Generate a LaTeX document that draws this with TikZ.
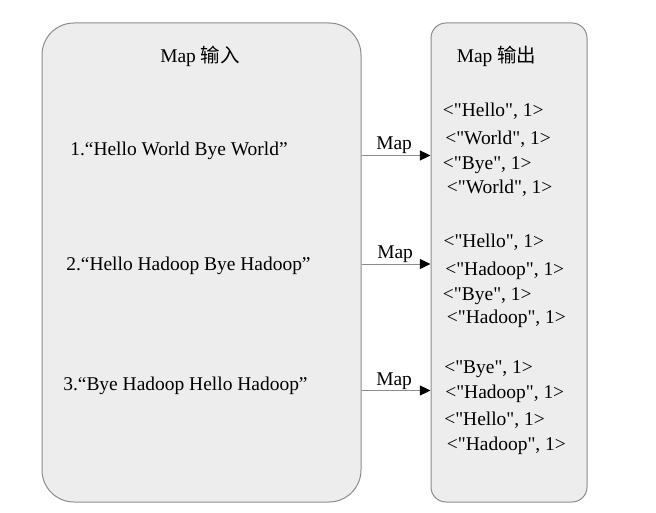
\documentclass[tikz,border=0pt]{standalone}
\usepackage{fontspec}
\setmainfont{Liberation Serif}
\newfontfamily\pairfont{Liberation Serif}
\newfontfamily\cjkfont{Noto Sans CJK SC}
\usepackage{tikz}
\usetikzlibrary{positioning, calc, arrows.meta}
\definecolor{PanelFill}{HTML}{EDEDED}
\definecolor{PanelLine}{HTML}{8C8C8C}
\tikzset{
    panel/.style={
        shape=rectangle,
        draw=PanelLine,
        fill=PanelFill,
        line width=0.75pt,
        rounded corners=#1
    },
    txt/.style={anchor=base west, inner sep=0pt, font=\fontsize{14.6}{17}\selectfont},
    pair/.style={txt, font=\fontsize{14.6}{17}\pairfont},
    maparrow/.style={draw=PanelLine, line width=0.75pt, -{Triangle[length=8pt, width=7.5pt, color=black]}}
}

\begin{document}
\begin{tikzpicture}[x=0.75pt, y=-0.75pt]

\useasboundingbox (0,0) rectangle (656,513);

% Panels
\node[panel=24pt, minimum width=239.25pt, minimum height=359.25pt] (in_box) at (201.5,262.5) {};
\node[panel=11.25pt, minimum width=117pt, minimum height=359.25pt] (out_box) at (509,262.5) {};

% Titles
\node[txt] (in_title) at (160,63) {Map {\cjkfont 输入}};
\node[txt] (out_title) at (456.5,63) {Map {\cjkfont 输出}};

% Input lines
\node[txt] (in_1) at (70,156) {1.“Hello World Bye World”};
\node[txt] (in_2) at (66,270) {2.“Hello Hadoop Bye Hadoop”};
\node[txt] (in_3) at (63,390) {3.“Bye Hadoop Hello Hadoop”};

% Arrows
\coordinate (a_1) at (in_box.east |- 0,155.5);
\coordinate (a_2) at (in_box.east |- 0,264);
\coordinate (a_3) at (in_box.east |- 0,390.5);
\draw[maparrow] (a_1) -- (a_1 -| out_box.west);
\draw[maparrow] (a_2) -- (a_2 -| out_box.west);
\draw[maparrow] (a_3) -- (a_3 -| out_box.west);
\node[txt] (m_1) at (376,149.5) {Map};
\node[txt] (m_2) at (377,258) {Map};
\node[txt] (m_3) at (376,385) {Map};

% Output pairs, group 1
\node[pair] (o_11) at (442.7,116.7) {<"Hello", 1>};
\node[pair] (o_12) at (445,145) {<"World", 1>};
\node[pair] (o_13) at (442.7,170) {<"Bye", 1>};
\node[pair] (o_14) at (446.7,193.3) {<"World", 1>};

% Output pairs, group 2
\node[pair] (o_21) at (443.3,247.3) {<"Hello", 1>};
\node[pair] (o_22) at (445,275) {<"Hadoop", 1>};
\node[pair] (o_23) at (442.7,300) {<"Bye", 1>};
\node[pair] (o_24) at (446.7,323.3) {<"Hadoop", 1>};

% Output pairs, group 3
\node[pair] (o_31) at (444,373.3) {<"Bye", 1>};
\node[pair] (o_32) at (445,398.3) {<"Hadoop", 1>};
\node[pair] (o_33) at (444,425) {<"Hello", 1>};
\node[pair] (o_34) at (446.7,450) {<"Hadoop", 1>};

\end{tikzpicture}
\end{document}
